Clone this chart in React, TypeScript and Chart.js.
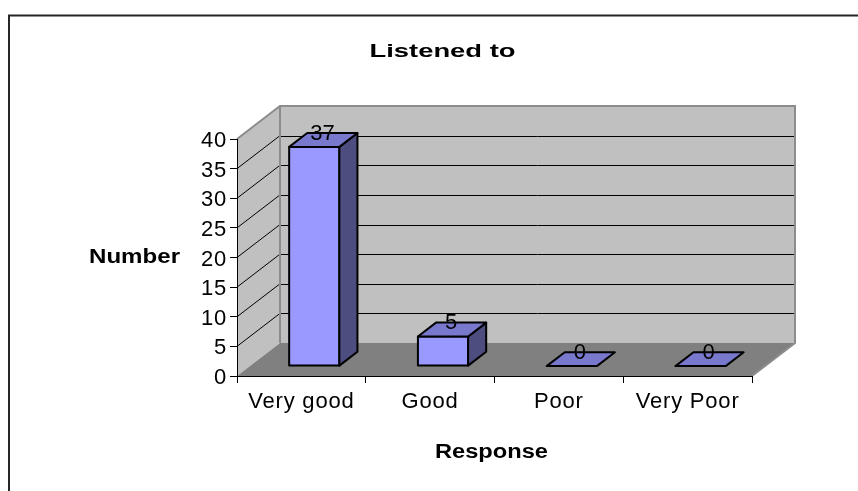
import { useEffect, useRef } from 'react';
import { Chart, registerables } from 'chart.js';

Chart.register(...registerables);

// ---- data ----
const categories = ['Very good', 'Good', 'Poor', 'Very Poor'];
const values = [37, 5, 0, 0];
const yTickValues = [0, 5, 10, 15, 20, 25, 30, 35, 40];
const chartTitle = 'Listened to';
const xAxisTitle = 'Response';
const yAxisTitle = 'Number';

// ---- style ----
const FONT = '"Liberation Sans", Arial, sans-serif';
const DEPTH_DX = 43;
const DEPTH_DY = -33;
const BAR_FRONT = 0.3;
const BAR_DEPTH = 0.42;
const FRONT_COLOR = '#9999FF';
const TOP_COLOR = '#7878CC';
const SIDE_COLOR = '#4D4D80';
const WALL_COLOR = '#C0C0C0';
const FLOOR_COLOR = '#808080';
const WALL_EDGE = '#8C8C8C';

function poly(ctx: CanvasRenderingContext2D, pts: number[][]) {
  ctx.beginPath();
  ctx.moveTo(pts[0][0], pts[0][1]);
  for (let i = 1; i < pts.length; i++) ctx.lineTo(pts[i][0], pts[i][1]);
  ctx.closePath();
}

function stretchedText(ctx: CanvasRenderingContext2D, text: string, font: string, cx: number, baseline: number, targetWidth: number) {
  ctx.save();
  ctx.letterSpacing = '0px';
  ctx.font = font;
  const w = ctx.measureText(text).width;
  const sx = targetWidth / w;
  ctx.translate(cx, baseline);
  ctx.scale(sx, 1);
  ctx.fillStyle = '#000';
  ctx.textAlign = 'center';
  ctx.textBaseline = 'alphabetic';
  ctx.fillText(text, 0, 0);
  ctx.restore();
}

const wallsPlugin = {
  id: 'walls3d',
  beforeDraw(chart: any) {
    const { ctx, chartArea, scales } = chart;
    const { left, right } = chartArea;
    const y = scales.y;
    const y0 = y.getPixelForValue(y.min);
    const yM = y.getPixelForValue(y.max);
    const dx = DEPTH_DX, dy = DEPTH_DY;
    ctx.save();
    ctx.fillStyle = '#fff';
    ctx.fillRect(0, 0, chart.width, chart.height);
    // outer chart border
    ctx.strokeStyle = '#262626';
    ctx.lineWidth = 2;
    ctx.strokeRect(9, 15.5, chart.width + 40, chart.height + 40);

    // left wall
    ctx.fillStyle = WALL_COLOR;
    poly(ctx, [[left, yM], [left + dx, yM + dy], [left + dx, y0 + dy], [left, y0]]);
    ctx.fill();
    // back wall
    ctx.fillRect(left + dx, yM + dy, right - left, y0 - yM);
    // floor
    ctx.fillStyle = FLOOR_COLOR;
    poly(ctx, [[left, y0], [left + dx, y0 + dy], [right + dx, y0 + dy], [right, y0]]);
    ctx.fill();

    // gridlines on back and left walls
    ctx.strokeStyle = '#000';
    ctx.lineWidth = 1;
    for (const v of yTickValues) {
      if (v <= y.min || v >= y.max) continue;
      const py = y.getPixelForValue(v);
      const by = Math.round(py + dy) + 0.5;
      ctx.beginPath();
      ctx.moveTo(left + dx, by);
      ctx.lineTo(right + dx, by);
      ctx.stroke();
      ctx.beginPath();
      ctx.moveTo(left, py);
      ctx.lineTo(left + dx, py + dy);
      ctx.stroke();
    }

    // wall edges
    ctx.strokeStyle = WALL_EDGE;
    ctx.lineWidth = 2;
    ctx.beginPath();
    ctx.moveTo(left, yM);
    ctx.lineTo(left + dx, yM + dy);
    ctx.lineTo(right + dx, yM + dy);
    ctx.lineTo(right + dx, y0 + dy);
    ctx.lineTo(right, y0);
    ctx.stroke();
    ctx.beginPath();
    ctx.moveTo(left + dx, yM + dy);
    ctx.lineTo(left + dx, y0 + dy);
    ctx.stroke();
    ctx.restore();

    // spacing used for Chart.js tick labels
    ctx.letterSpacing = '0.8px';
  },
  beforeDatasetsDraw(chart: any) {
    const { ctx } = chart;
    ctx.save();
    ctx.translate(DEPTH_DX * BAR_FRONT, DEPTH_DY * BAR_FRONT);
  },
  afterDatasetsDraw(chart: any) {
    const { ctx } = chart;
    const meta = chart.getDatasetMeta(0);
    const bdx = DEPTH_DX * BAR_DEPTH;
    const bdy = DEPTH_DY * BAR_DEPTH;
    ctx.save();
    ctx.strokeStyle = '#000';
    ctx.lineWidth = 2;
    ctx.lineJoin = 'round';
    meta.data.forEach((el: any, i: number) => {
      const { x, y, base, width } = el.getProps(['x', 'y', 'base', 'width'], true);
      const L = x - width / 2;
      const R = x + width / 2;
      if (base - y > 0.5) {
        ctx.strokeRect(L, y, width, base - y);
        ctx.fillStyle = SIDE_COLOR;
        poly(ctx, [[R, y], [R + bdx, y + bdy], [R + bdx, base + bdy], [R, base]]);
        ctx.fill();
        ctx.stroke();
      }
      ctx.fillStyle = TOP_COLOR;
      poly(ctx, [[L, y], [R, y], [R + bdx, y + bdy], [L + bdx, y + bdy]]);
      ctx.fill();
      ctx.stroke();
      // data label
      ctx.letterSpacing = '0px';
      ctx.fillStyle = '#000';
      ctx.font = `22px ${FONT}`;
      ctx.textAlign = 'center';
      ctx.textBaseline = 'alphabetic';
      ctx.fillText(String(values[i]), x + bdx * 0.45, y - 7);
    });
    ctx.restore();
    ctx.restore();
  },
  afterDraw(chart: any) {
    const { ctx, chartArea } = chart;
    stretchedText(ctx, chartTitle, `bold 19px ${FONT}`, 442.5, 56.5, 146);
    stretchedText(ctx, yAxisTitle, `bold 20px ${FONT}`, chartArea.left - 102.5, (chartArea.top + chartArea.bottom) / 2 + 5, 91);
    stretchedText(ctx, xAxisTitle, `bold 20px ${FONT}`, 491.5, chartArea.bottom + 82, 113);
  },
};

export default function App() {
  const ref = useRef<HTMLCanvasElement>(null);
  useEffect(() => {
    if (!ref.current) return;
    const chart = new Chart(ref.current, {
      type: 'bar',
      data: {
        labels: categories,
        datasets: [
          {
            data: values,
            backgroundColor: FRONT_COLOR,
            borderWidth: 0,
            barPercentage: 0.39,
            categoryPercentage: 1,
            clip: false as any,
          },
        ],
      },
      options: {
        responsive: false,
        animation: false,
        events: [],
        layout: { padding: { left: 0, right: 106, top: 139, bottom: 0 } },
        plugins: {
          legend: { display: false },
          title: { display: false },
          tooltip: { enabled: false },
        },
        scales: {
          x: {
            grid: { drawOnChartArea: false, tickLength: 7, color: '#000', lineWidth: 1, offset: true },
            border: { color: '#000', width: 1 },
            ticks: { color: '#000', font: { family: FONT, size: 22 }, padding: 6, maxRotation: 0, autoSkip: false },
            afterFit: (s: any) => {
              s.height = 115;
            },
          },
          y: {
            min: 0,
            max: 40,
            afterBuildTicks: (s: any) => {
              s.ticks = yTickValues.map((v) => ({ value: v }));
            },
            grid: { drawOnChartArea: false, tickLength: 7, color: '#000', lineWidth: 1 },
            border: { color: '#000', width: 1 },
            ticks: { color: '#000', font: { family: FONT, size: 22 }, padding: 3, labelOffset: 2 },
            afterFit: (s: any) => {
              s.width = 237;
            },
          },
        },
      },
      plugins: [wallsPlugin],
    });
    return () => chart.destroy();
  }, []);
  return (
    <div style={{ position: 'fixed', left: 0, top: 0, width: 858, height: 491, background: '#fff' }}>
      <canvas ref={ref} width={858} height={491} style={{ display: 'block' }} />
    </div>
  );
}
